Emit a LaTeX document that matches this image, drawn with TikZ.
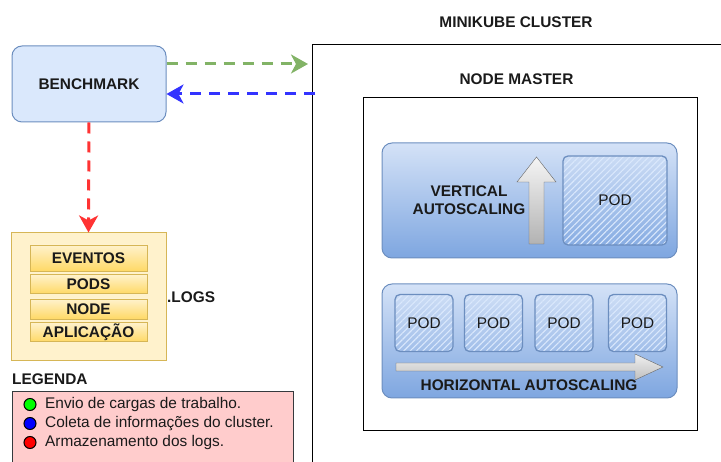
\documentclass[tikz,border=0pt]{standalone}
\usepackage{fontspec}
\setmainfont{Liberation Sans}
\usepackage{tikz}
\usetikzlibrary{arrows.meta, patterns.meta, positioning}
\definecolor{InkGrey}{RGB}{26, 26, 26}
\definecolor{BenchFill}{HTML}{DAE8FC}
\definecolor{BenchLine}{HTML}{6C8EBF}
\definecolor{LogFill}{HTML}{FFF2CC}
\definecolor{LogLine}{HTML}{D6B656}
\definecolor{LogDeep}{HTML}{FFD966}
\definecolor{FlowGreen}{HTML}{82B366}
\definecolor{FlowBlue}{HTML}{3333FF}
\definecolor{FlowRed}{HTML}{FF3333}
\definecolor{LegendFill}{HTML}{FFCCCC}
\definecolor{LegendLine}{HTML}{36393D}
\definecolor{ScaleTop}{HTML}{D4E2F7}
\definecolor{ScaleBottom}{HTML}{7EA6E0}
\definecolor{ArrowLine}{HTML}{666666}

\begin{document}
\begin{tikzpicture}[x=1pt, y=-1pt, font=\fontsize{15.4}{18.4}\selectfont, text=InkGrey,
    benchbox/.style={draw=BenchLine, fill=BenchFill, rounded corners=10pt, line width=1pt,
        minimum width=154pt, minimum height=76pt, inner sep=0pt, font=\fontsize{15.4}{18.4}\selectfont\bfseries},
    logbox/.style={draw=LogLine, fill=LogFill, line width=1pt, minimum width=155pt, minimum height=128pt, inner sep=0pt},
    logbar/.style={draw=LogLine, top color=LogFill, bottom color=LogDeep, minimum width=117pt,
        inner sep=0pt, font=\fontsize{15.4}{18.4}\selectfont\bfseries},
    scalebox/.style={draw=BenchLine, top color=ScaleTop, bottom color=ScaleBottom, rounded corners=10pt,
        line width=1pt, minimum width=295pt, inner sep=0pt},
    podbox/.style={draw=BenchLine, line width=1.3pt, rounded corners=5pt, inner sep=0pt,
        pattern={Lines[angle=45, distance=4.5pt, line width=1.1pt]}, pattern color=BenchFill},
    flow/.style={line width=3pt, dash pattern=on 11pt off 8pt, -{Stealth[length=17pt, width=19pt, inset=5pt]}},
    dot/.style={circle, draw=black, line width=1pt, minimum size=12pt, inner sep=0pt},
    bold/.style={font=\fontsize{15.4}{18.4}\selectfont\bfseries}]
    \useasboundingbox (0,0) rectangle (721,462);

    % Benchmark
    \node[benchbox] (bench) at (89,84) {BENCHMARK};

    % Logs
    \node[logbox] (logs) at (88.5,297) {};
    \node[logbar, minimum height=26pt] (eventos) at (88.5,258) {EVENTOS};
    \node[logbar, minimum height=19pt] (pods) at (88.5,284) {PODS};
    \node[logbar, minimum height=20pt] (nodebar) at (88.5,309) {NODE};
    \node[logbar, minimum height=19pt] (aplicacao) at (88.5,332) {APLICAÇÃO};
    \node[bold, anchor=west, inner sep=0pt] (logslbl) at (167,297) {.LOGS};

    % Cluster
    \draw[black, line width=1pt] (721,45) -- (312,45) -- (312,462);
    \node[bold] (clusterlbl) at (516,22) {MINIKUBE CLUSTER};
    \node[draw=black, line width=1pt, minimum width=334pt, minimum height=333pt, inner sep=0pt] (master) at (530,264.5) {};
    \node[bold] (masterlbl) at (516.5,79) {NODE MASTER};

    % Vertical autoscaling
    \node[scalebox, minimum height=115pt] (vertical) at (529.5,200.5) {};
    \node[bold, align=center] (verticallbl) at (469,200) {VERTICAL\\AUTOSCALING};
    \draw[draw=ArrowLine, top color=white!96!black, bottom color=black!30]
        (529,244) -- (529,182) -- (517,182) -- (536.5,157) -- (556,182) -- (544,182) -- (544,244) -- cycle;
    \node[podbox, minimum width=104pt, minimum height=89pt] (bigpod) at (615,200.5) {POD};

    % Horizontal autoscaling
    \node[scalebox, minimum height=114pt] (horizontal) at (529.5,341) {};
    \foreach \px/\nm in {424/poda, 493.5/podb, 564/podc, 637.5/podd}
        \node[podbox, minimum width=58pt, minimum height=57pt] (\nm) at (\px,323) {POD};
    \draw[draw=ArrowLine, top color=white!94!black, bottom color=black!25]
        (396,363) -- (635,363) -- (635,354) -- (663,367) -- (635,380) -- (635,371) -- (396,371) -- cycle;
    \node[bold] (horizontallbl) at (529,385) {HORIZONTAL AUTOSCALING};

    % Fluxos
    \coordinate (inW) at (308,64);
    \coordinate (outW) at (315,94);
    \draw[flow, FlowGreen] (bench.east |- inW) -- (inW);
    \draw[flow, FlowBlue] (outW) -- (bench.east |- outW);
    \draw[flow, FlowRed] (bench.south) -- (logs.north);

    % Legenda
    \node[bold, anchor=west, inner sep=0pt] (legtitle) at (12,379) {LEGENDA};
    \fill[LegendFill] (12,392) rectangle (293,462);
    \draw[LegendLine, line width=1pt] (12,462) -- (12,392) -- (293,392) -- (293,462);
    \node[dot, fill=green] (dotgreen) at (30,404.5) {};
    \node[dot, fill=blue] (dotblue) at (30,423.5) {};
    \node[dot, fill=red] (dotred) at (30,442.5) {};
    \node[anchor=west, inner sep=0pt] (leggreen) at (45,404.5) {Envio de cargas de trabalho.};
    \node[anchor=west, inner sep=0pt] (legblue) at (45,423.5) {Coleta de informações do cluster.};
    \node[anchor=west, inner sep=0pt] (legred) at (45,442.5) {Armazenamento dos logs.};
\end{tikzpicture}
\end{document}
